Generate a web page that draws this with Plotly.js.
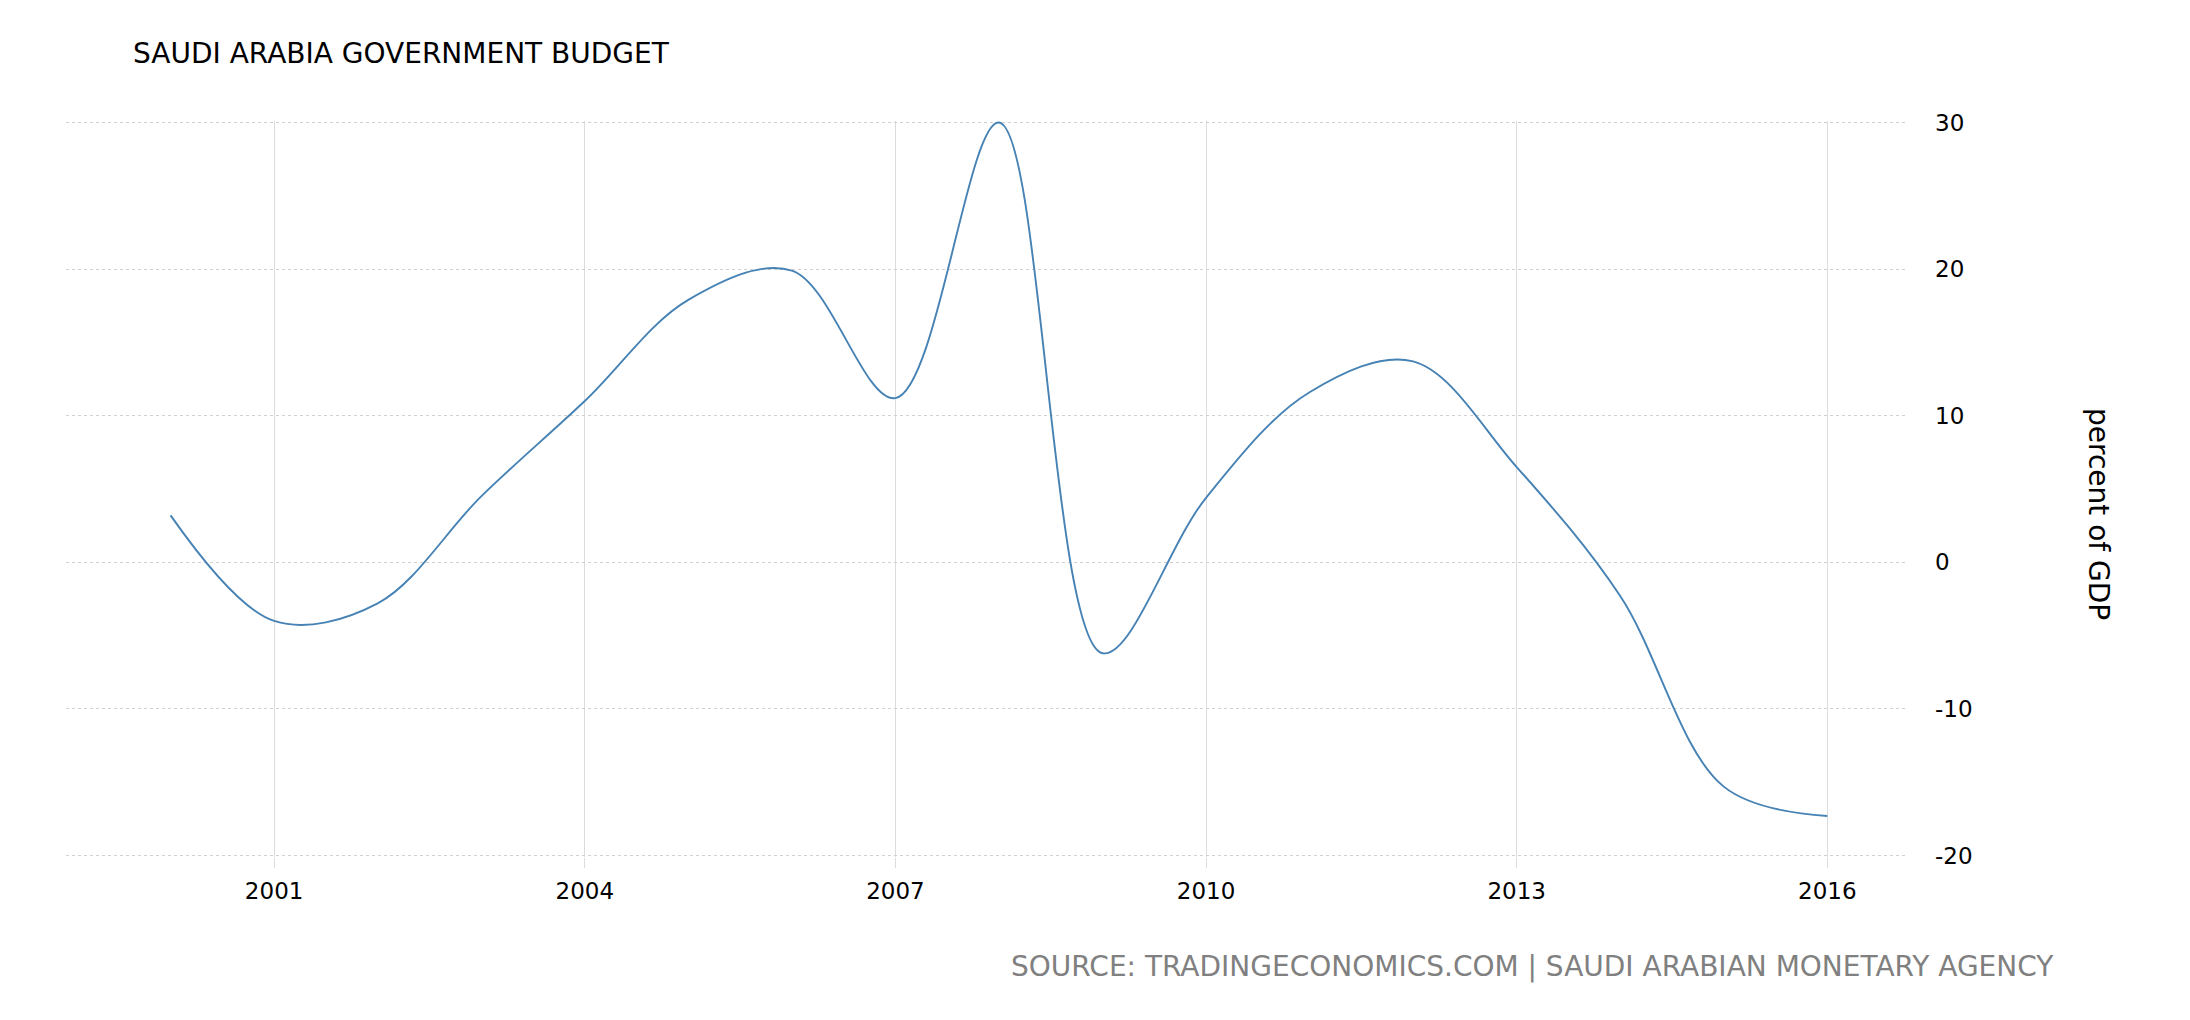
<!DOCTYPE html>
<html>
<head>
<meta charset="utf-8">
<script src="https://cdn.plot.ly/plotly-3.0.1.min.js"></script>
<style>html,body{margin:0;padding:0;background:#fff;}#chart{width:2190px;height:1020px;}</style>
</head>
<body>
<div id="chart"></div>
<script>
const years = [2000, 2001, 2002, 2003, 2004, 2005, 2006, 2007, 2008, 2009, 2010, 2011, 2012, 2013, 2014, 2015, 2016];
const budgetPctGDP = [3.2, -4.0, -2.8, 4.5, 11.0, 17.9, 19.9, 11.2, 30.0, -6.2, 4.4, 11.6, 13.7, 6.5, -2.3, -15.3, -17.3];
const xTickVals = [2001, 2004, 2007, 2010, 2013, 2016];
const xTickText = ['2001', '2004', '2007', '2010', '2013', '2016'];
const yTickVals = [-20, -10, 0, 10, 20, 30];
const yTickText = ['-20', '-10', '0', '10', '20', '30'];

const trace = {
  x: years,
  y: budgetPctGDP,
  type: 'scatter',
  mode: 'lines',
  line: {color: '#4682b4', width: 1.9, shape: 'spline', smoothing: 1},
  hoverinfo: 'x+y'
};

const layout = {
  width: 2190,
  height: 1020,
  margin: {l: 66, r: 284, t: 121, b: 163},
  paper_bgcolor: '#fff',
  plot_bgcolor: '#fff',
  showlegend: false,
  font: {family: 'DejaVu Sans', color: '#000'},
  title: {
    text: 'SAUDI ARABIA GOVERNMENT BUDGET',
    xref: 'container', x: 133 / 2190, xanchor: 'left',
    yref: 'container', y: 1 - 53 / 1020, yanchor: 'middle',
    font: {family: 'DejaVu Sans', size: 28, color: '#000'}
  },
  xaxis: {
    range: [1998.99, 2016.76],
    tickvals: xTickVals,
    ticktext: xTickText,
    showgrid: true,
    gridcolor: '#dcdcdc',
    gridwidth: 1,
    zeroline: false,
    showline: false,
    ticks: 'outside',
    ticklen: 10,
    tickwidth: 1,
    tickcolor: '#dcdcdc',
    ticklabelstandoff: 3,
    tickfont: {family: 'DejaVu Sans', size: 23, color: '#000'}
  },
  yaxis: {
    side: 'right',
    range: [-20.1, 30.1],
    tickvals: yTickVals,
    ticktext: yTickText,
    showgrid: true,
    gridcolor: '#d0d0d0',
    griddash: 'dot',
    gridwidth: 1,
    zeroline: false,
    showline: false,
    ticks: '',
    ticklabelstandoff: 28,
    tickfont: {family: 'DejaVu Sans', size: 23, color: '#000'}
  },
  annotations: [
    {
      text: 'percent of GDP',
      xref: 'paper', yref: 'paper',
      x: (2099 - 66) / 1840, y: (857 - 514) / 736,
      xanchor: 'center', yanchor: 'middle',
      textangle: 90,
      showarrow: false,
      font: {family: 'DejaVu Sans', size: 28, color: '#000'}
    },
    {
      text: 'SOURCE: TRADINGECONOMICS.COM | SAUDI ARABIAN MONETARY AGENCY',
      xref: 'paper', yref: 'paper',
      x: (2056 - 66) / 1840, y: (857 - 966) / 736,
      xanchor: 'right', yanchor: 'middle',
      showarrow: false,
      font: {family: 'DejaVu Sans', size: 28, color: '#808080'}
    }
  ]
};

Plotly.newPlot('chart', [trace], layout, {displayModeBar: false, staticPlot: true});
</script>
</body>
</html>
